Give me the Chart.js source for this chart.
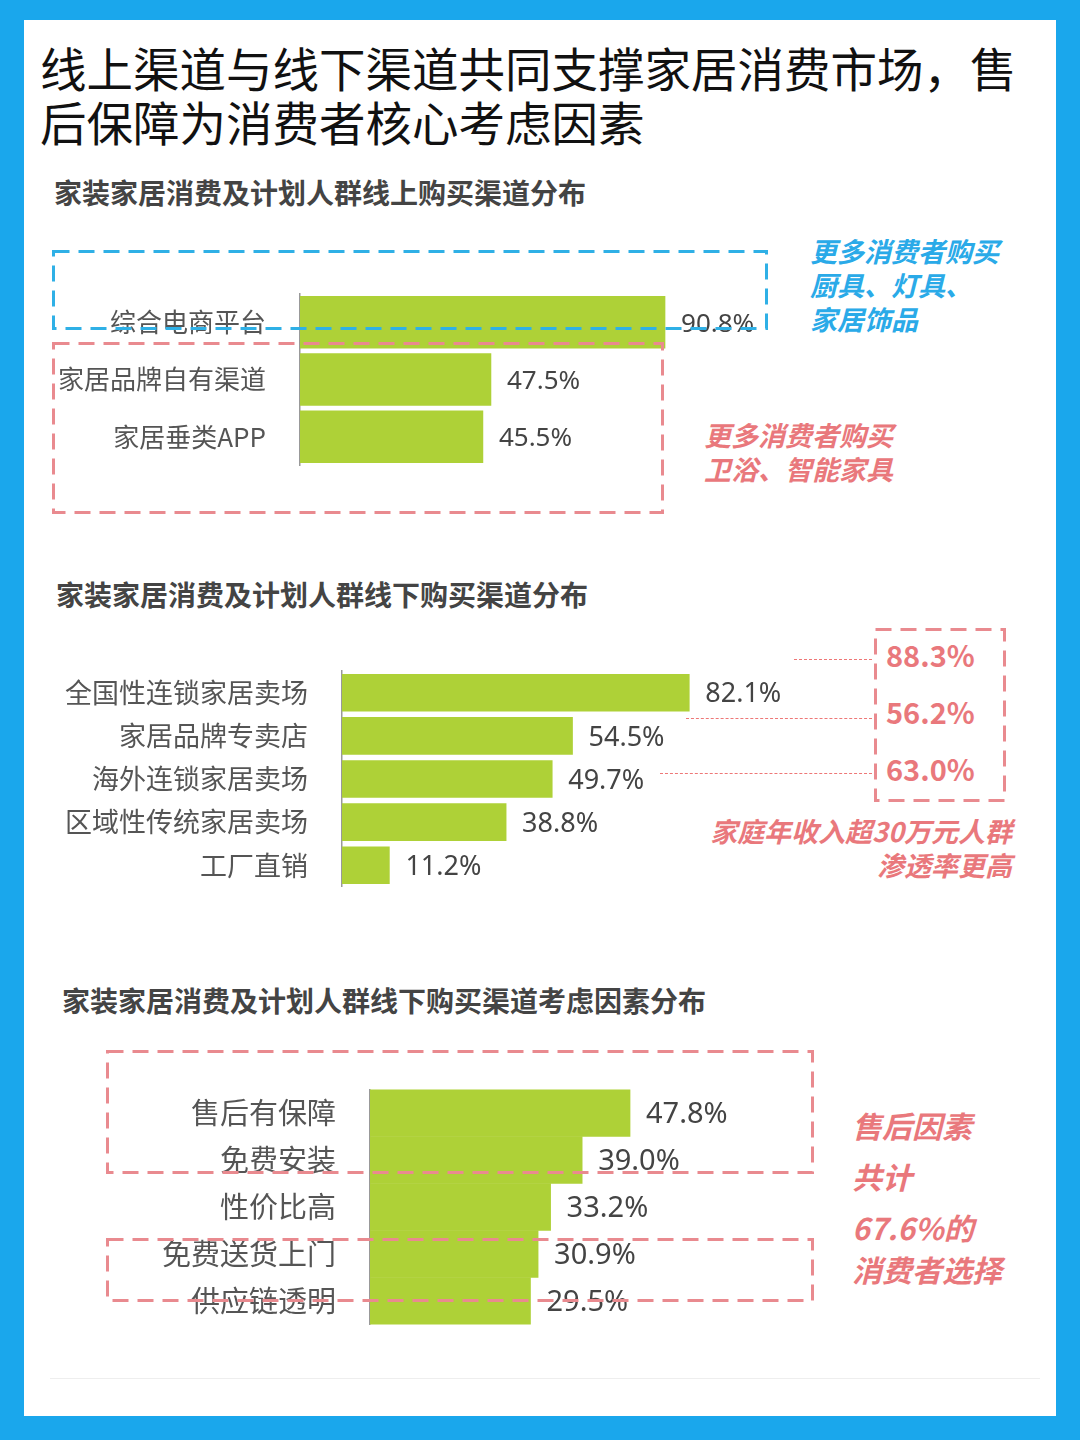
<!DOCTYPE html>
<html><head><meta charset="utf-8">
<script src="https://cdn.jsdelivr.net/npm/chart.js@4"></script>
<style>
body{margin:0;width:1080px;height:1440px;background:#1aa7ec;font-family:"Noto Sans CJK SC","Noto Sans",sans-serif;position:relative;overflow:hidden}
#card{position:absolute;left:24px;top:20px;width:1032px;height:1396px;background:#fff}
.abs{position:absolute}
h1{position:absolute;left:40px;top:40px;margin:0;font-size:46.5px;font-weight:400;line-height:54px;color:#111}
.h2{position:absolute;font-size:28px;font-weight:700;color:#444}
.note{position:absolute;font-size:27px;font-weight:700;font-style:italic;line-height:34px}
.dl{position:absolute;border-top:1.5px dashed #e77}
canvas{position:absolute}
svg{position:absolute;overflow:visible}
</style></head><body>
<div id="card"></div>
<h1>线上渠道与线下渠道共同支撑家居消费市场，售<br>后保障为消费者核心考虑因素</h1>
<div class="h2" style="left:54px;top:172px">家装家居消费及计划人群线上购买渠道分布</div>
<div class="h2" style="left:56px;top:574px">家装家居消费及计划人群线下购买渠道分布</div>
<div class="h2" style="left:62px;top:980px">家装家居消费及计划人群线下购买渠道考虑因素分布</div>

<div class="note" style="left:810px;top:234px;color:#2aaae8">更多消费者购买<br>厨具、灯具、<br>家居饰品</div>
<div class="note" style="left:704px;top:418px;color:#e9787c">更多消费者购买<br>卫浴、智能家具</div>

<div class="dl" style="left:794px;top:659px;width:78px"></div>
<div class="dl" style="left:686px;top:718px;width:186px"></div>
<div class="dl" style="left:660px;top:773px;width:212px"></div>
<div class="abs" style="left:886px;top:626px;font-size:29px;font-weight:700;color:#e9787c;line-height:57px">88.3%<br>56.2%<br>63.0%</div>
<div class="note" style="left:676px;top:814px;color:#e9787c;text-align:right;width:336px">家庭年收入超30万元人群<br>渗透率更高</div>

<div class="note" style="left:852px;top:1104px;color:#e9787c;font-size:30px;line-height:42px">售后因素<br><span style="line-height:60px">共计</span><br>67.6%的<br>消费者选择</div>
<div class="abs" style="left:50px;top:1378px;width:990px;border-top:1px solid #eee"></div>

<canvas id="c1"></canvas><canvas id="c2"></canvas><canvas id="c3"></canvas>
<script>
const onlineCats = ['综合电商平台', '家居品牌自有渠道', '家居垂类APP'];
const onlineVals = [90.8, 47.5, 45.5];
const offlineCats = ['全国性连锁家居卖场', '家居品牌专卖店', '海外连锁家居卖场', '区域性传统家居卖场', '工厂直销'];
const offlineVals = [82.1, 54.5, 49.7, 38.8, 11.2];
const factorCats = ['售后有保障', '免费安装', '性价比高', '免费送货上门', '供应链透明'];
const factorVals = [47.8, 39.0, 33.2, 30.9, 29.5];

function box(x, y, w, h, color) {
    const ns = 'http://www.w3.org/2000/svg';
    const s = document.createElementNS(ns, 'svg');
    s.setAttribute('width', w); s.setAttribute('height', h);
    s.style.left = x + 'px'; s.style.top = y + 'px';
    const r = document.createElementNS(ns, 'rect');
    r.setAttribute('x', 1.5); r.setAttribute('y', 1.5);
    r.setAttribute('width', w - 3); r.setAttribute('height', h - 3);
    r.setAttribute('fill', 'none'); r.setAttribute('stroke', color);
    r.setAttribute('stroke-width', 3); r.setAttribute('stroke-dasharray', '16 9');
    s.appendChild(r);
    document.body.appendChild(s);
}
box(52, 250, 716, 80, '#2fb0e6');
box(52, 342, 612, 172, '#e98a8f');
box(874, 628, 132, 174, '#e98a8f');
box(106, 1050, 708, 124, '#e98a8f');
box(106, 1238, 708, 64, '#e98a8f');

function draw(id, cats, vals, o) {
    const cv = document.getElementById(id);
    cv.width = o.w; cv.height = o.h;
    cv.style.left = o.left + 'px'; cv.style.top = o.top + 'px';
    const labels = {
        id: 'vl',
        afterDatasetsDraw(chart) {
            const ctx = chart.ctx;
            ctx.save();
            ctx.font = o.fs + 'px "Noto Sans"';
            ctx.fillStyle = '#444';
            ctx.textBaseline = 'middle';
            chart.getDatasetMeta(0).data.forEach((b, i) => {
                ctx.fillText(vals[i].toFixed(1) + '%', b.x + 16, b.y + 2);
            });
            ctx.restore();
        }
    };
    new Chart(cv, {
        type: 'bar',
        data: { labels: cats, datasets: [{ data: vals, backgroundColor: '#aed137', barThickness: o.bt }] },
        options: {
            indexAxis: 'y', responsive: false, animation: false, devicePixelRatio: 1,
            layout: { padding: 0 },
            plugins: { legend: { display: false }, tooltip: { enabled: false } },
            scales: {
                x: { display: false, min: 0, max: o.max },
                y: {
                    afterFit(s) { s.width = o.yw; },
                    grid: { display: false },
                    border: { color: '#999', width: 1.5 },
                    ticks: { color: '#555', font: { size: o.fs, family: '"Noto Sans CJK SC"' }, padding: 26 }
                }
            }
        },
        plugins: [labels]
    });
}
draw('c1', onlineCats, onlineVals, { left: 40, top: 252, w: 1000, h: 255, yw: 260, max: 740 / 4.02, bt: 52, fs: 26 });
draw('c2', offlineCats, offlineVals, { left: 30, top: 629, w: 1000, h: 300, yw: 312, max: 688 / 4.23, bt: 37, fs: 27 });
draw('c3', factorCats, factorVals, { left: 30, top: 1046, w: 1000, h: 322, yw: 340, max: 660 / 5.44, bt: 47, fs: 29 });
</script>
</body></html>
